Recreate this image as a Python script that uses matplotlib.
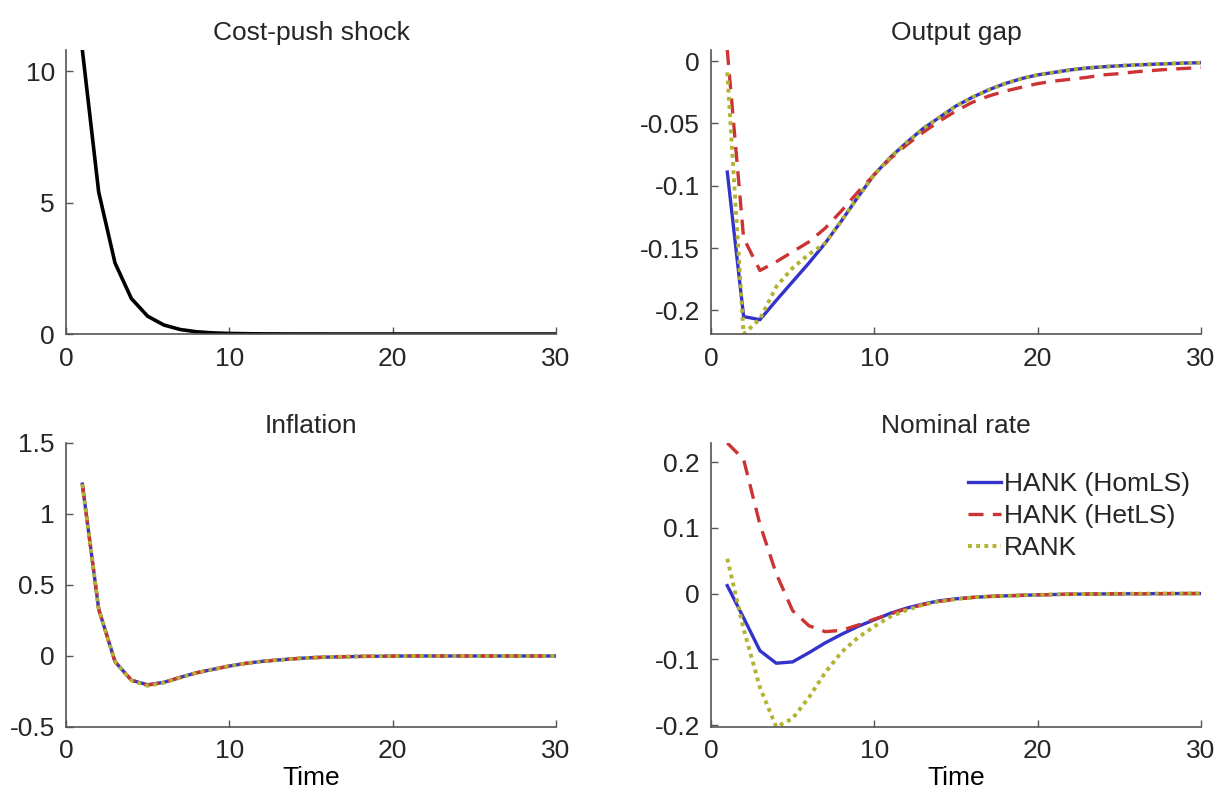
#
#	Impulse responses to a cost-push shock: HANK (HomLS), HANK (HetLS) and RANK
#

# ----- Imports ----- #

import numpy as np
import matplotlib
matplotlib.use("Agg")
import matplotlib.pyplot as plt
from matplotlib.ticker import FuncFormatter

# ----- Data ----- #

time = np.arange(1, 31)

shock = [10.8, 5.4, 2.7, 1.35, 0.675, 0.34, 0.17, 0.084, 0.042, 0.021,
		 0.011, 0.005, 0.003, 0.001, 0.001, 0, 0, 0, 0, 0,
		 0, 0, 0, 0, 0, 0, 0, 0, 0, 0]

gap_hom = [-0.089, -0.205, -0.2075, -0.192, -0.177, -0.162, -0.146, -0.128, -0.109, -0.091,
		   -0.077, -0.065, -0.054, -0.045, -0.036, -0.029, -0.023, -0.018, -0.014, -0.011,
		   -0.009, -0.007, -0.0055, -0.0045, -0.0037, -0.003, -0.0025, -0.002, -0.0015, -0.0012]
gap_het = [0.009, -0.142, -0.168, -0.161, -0.153, -0.145, -0.134, -0.120, -0.105, -0.091,
		   -0.078, -0.067, -0.057, -0.048, -0.040, -0.033, -0.028, -0.024, -0.021, -0.018,
		   -0.016, -0.0145, -0.013, -0.011, -0.010, -0.0085, -0.0075, -0.0065, -0.0058, -0.005]
gap_rank = [-0.009, -0.219, -0.207, -0.181, -0.166, -0.155, -0.146, -0.128, -0.109, -0.091,
			-0.077, -0.065, -0.054, -0.045, -0.036, -0.029, -0.023, -0.018, -0.014, -0.011,
			-0.009, -0.007, -0.0055, -0.0045, -0.0037, -0.003, -0.0025, -0.002, -0.0015, -0.0012]

infl_hom = [1.21, 0.33, -0.04, -0.17, -0.203, -0.185, -0.15, -0.118, -0.094, -0.071,
			-0.052, -0.038, -0.028, -0.019, -0.012, -0.008, -0.005, -0.003, -0.002, -0.001,
			0, 0, 0, 0, 0, 0, 0, 0, 0, 0]
infl_het = [1.21, 0.33, -0.04, -0.17, -0.205, -0.186, -0.151, -0.118, -0.094, -0.071,
			-0.052, -0.038, -0.028, -0.019, -0.012, -0.008, -0.005, -0.003, -0.002, -0.001,
			0, 0, 0, 0, 0, 0, 0, 0, 0, 0]
infl_rank = [1.21, 0.33, -0.04, -0.172, -0.21, -0.188, -0.152, -0.119, -0.094, -0.071,
			 -0.052, -0.038, -0.028, -0.019, -0.012, -0.008, -0.005, -0.003, -0.002, -0.001,
			 0, 0, 0, 0, 0, 0, 0, 0, 0, 0]

rate_hom = [0.012, -0.037, -0.087, -0.106, -0.104, -0.090, -0.075, -0.062, -0.050, -0.040,
			-0.030, -0.022, -0.016, -0.011, -0.008, -0.006, -0.0045, -0.0035, -0.0028, -0.002,
			-0.0015, -0.001, -0.0008, -0.0006, -0.0004, -0.0003, -0.0002, -0.0001, 0, 0]
rate_het = [0.229, 0.204, 0.105, 0.030, -0.026, -0.049, -0.058, -0.056, -0.048, -0.039,
			-0.031, -0.023, -0.017, -0.012, -0.0085, -0.006, -0.0045, -0.0035, -0.0028, -0.002,
			-0.0015, -0.001, -0.0008, -0.0006, -0.0004, -0.0003, -0.0002, -0.0001, 0, 0]
rate_rank = [0.053, -0.054, -0.143, -0.203, -0.190, -0.158, -0.120, -0.089, -0.067, -0.050,
			 -0.035, -0.025, -0.017, -0.012, -0.0085, -0.006, -0.0045, -0.0035, -0.0028, -0.002,
			 -0.0015, -0.001, -0.0008, -0.0006, -0.0004, -0.0003, -0.0002, -0.0001, 0, 0]

labels = ["HANK (HomLS)", "HANK (HetLS)", "RANK"]

# ----- Style ----- #

plt.rcParams["font.family"] = ["Liberation Sans", "DejaVu Sans"]
plt.rcParams["font.size"] = 19
plt.rcParams["axes.unicode_minus"] = False
plt.rcParams["text.color"] = "#262626"

BLUE = "#3333cc"
RED = "#cc3333"
GREEN = "#b3b333"
AXIS_COLOR = "#555555"

def style_axes(ax, title, yticks, ylim, xlabel=None):
	"""Matlab-like axes: box off, inward ticks"""
	ax.set_title(title, pad=7, fontsize=19)
	ax.set_xlim(0, 30)
	ax.set_ylim(*ylim)
	ax.set_xticks([0, 10, 20, 30])
	ax.set_yticks(yticks)
	ax.yaxis.set_major_formatter(FuncFormatter(lambda v, p: "%g" % v))
	for side in ["top", "right"]:
		ax.spines[side].set_visible(False)
	for side in ["left", "bottom"]:
		ax.spines[side].set_color(AXIS_COLOR)
		ax.spines[side].set_linewidth(1.2)
	ax.tick_params(direction="in", length=5, width=1.0, color=AXIS_COLOR,
				   labelcolor="#262626", labelsize=19)
	ax.tick_params(axis="x", pad=9)
	ax.tick_params(axis="y", pad=8)
	if xlabel is not None:
		ax.set_xlabel(xlabel, labelpad=2)

def plot_three(ax, hom, het, rank):
	l1, = ax.plot(time, hom, color=BLUE, lw=2.4, solid_joinstyle="miter")
	l2, = ax.plot(time, het, color=RED, lw=2.4, dashes=(4.5, 2.8))
	l3, = ax.plot(time, rank, color=GREEN, lw=2.8, dashes=(1, 1.1))
	return [l1, l2, l3]

# ----- Figure ----- #

fig = plt.figure(figsize=(12.18, 7.96), dpi=100)

ax_shock = fig.add_axes([0.0542, 0.5804, 0.4023, 0.3568])
ax_gap = fig.add_axes([0.5837, 0.5804, 0.4023, 0.3568])
ax_infl = fig.add_axes([0.0542, 0.0867, 0.4023, 0.3568])
ax_rate = fig.add_axes([0.5837, 0.0867, 0.4023, 0.3568])

# Cost-push shock
ax_shock.plot(time, shock, color="black", lw=2.6)
style_axes(ax_shock, "Cost-push shock", [0, 5, 10], (0, max(shock)))

# Output gap
plot_three(ax_gap, gap_hom, gap_het, gap_rank)
gap_all = gap_hom + gap_het + gap_rank
style_axes(ax_gap, "Output gap", [-0.2, -0.15, -0.1, -0.05, 0], (min(gap_all), max(gap_all)))

# Inflation
plot_three(ax_infl, infl_hom, infl_het, infl_rank)
style_axes(ax_infl, "Inflation", [-0.5, 0, 0.5, 1, 1.5], (-0.5, 1.5), xlabel="Time")

# Nominal rate
lines = plot_three(ax_rate, rate_hom, rate_het, rate_rank)
rate_all = rate_hom + rate_het + rate_rank
style_axes(ax_rate, "Nominal rate", [-0.2, -0.1, 0, 0.1, 0.2], (min(rate_all), max(rate_all)), xlabel="Time")

ax_rate.legend(lines, labels, loc="upper left", bbox_to_anchor=(0.5245, 0.897), frameon=False,
			   borderpad=0, borderaxespad=0, handlelength=1.25, handletextpad=0.12,
			   labelspacing=0.3, fontsize=19)

fig.savefig("out.png", dpi=100)
